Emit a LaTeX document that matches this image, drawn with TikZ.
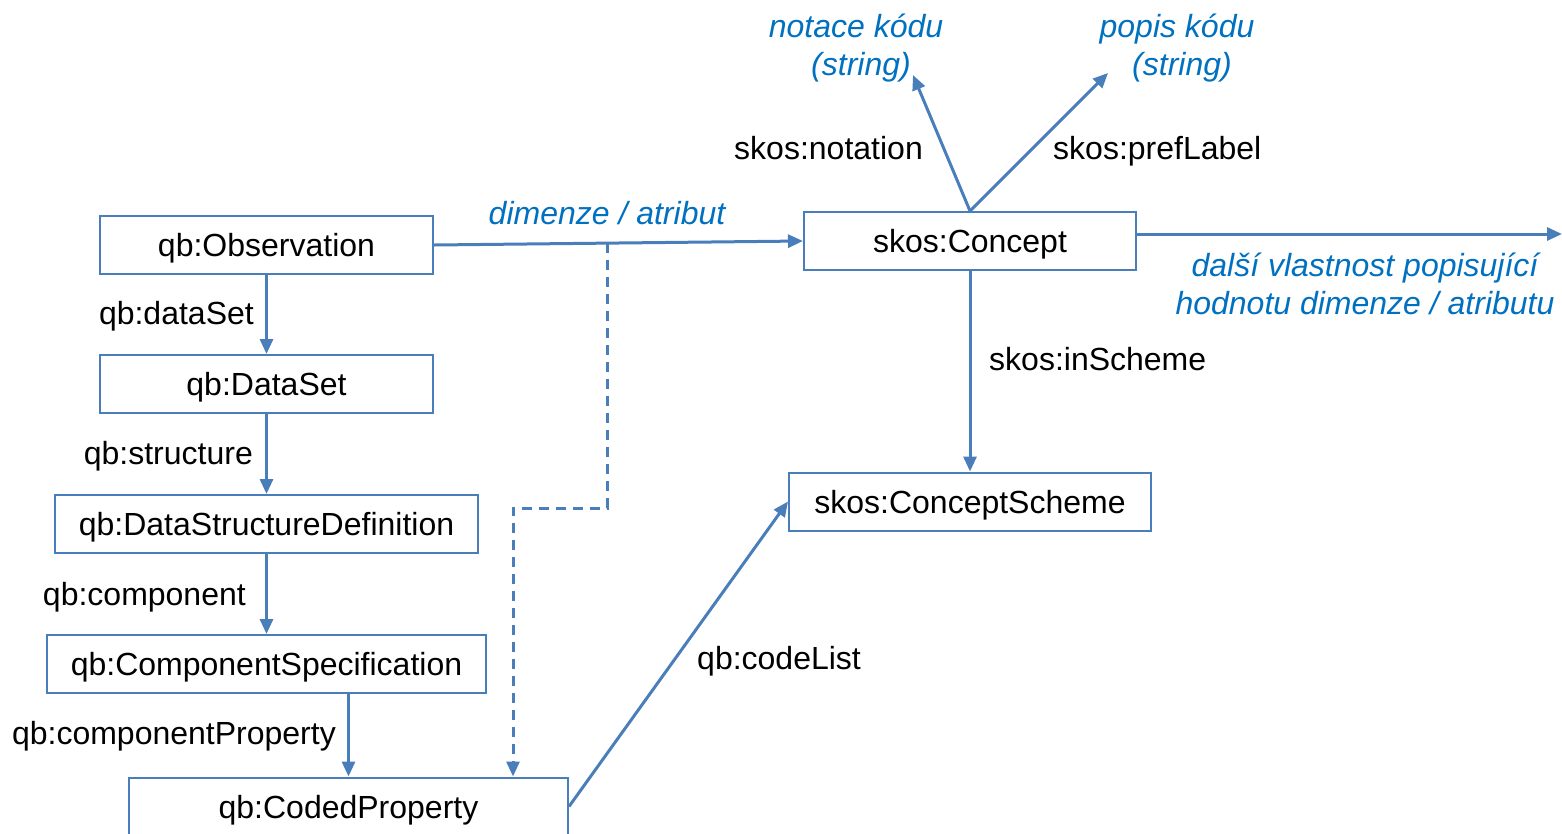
\documentclass[tikz,border=0pt]{standalone}
\usepackage{fontspec}
\setmainfont{Liberation Sans}
\usetikzlibrary{arrows.meta,calc}
\definecolor{linec}{HTML}{4A7EBB}
\definecolor{italc}{HTML}{0070C0}
\begin{document}
\begin{tikzpicture}[x=1pt,y=-1pt,
  font=\fontsize{32}{38}\selectfont,
  cls/.style={draw=linec,line width=2pt,minimum height=58pt,inner sep=0pt,
              text height=23pt,text depth=0pt},
  prop/.style={inner sep=0pt,text height=23pt,text depth=0pt},
  note/.style={inner sep=0pt,text=italc,font=\fontsize{32}{38}\selectfont\itshape,align=center},
  link/.style={draw=linec,line width=3pt,-{Triangle[length=15pt,width=13pt]}},
  dlink/.style={link,dash pattern=on 10pt off 7pt}]
\useasboundingbox (0,0) rectangle (1562,833);

% class boxes
\node[cls,minimum width=333pt] (obs) at (266.5,245) {qb:Observation};
\node[cls,minimum width=333pt] (ds)  at (266.5,384) {qb:DataSet};
\node[cls,minimum width=423pt] (dsd) at (266.5,524) {qb:DataStructureDefinition};
\node[cls,minimum width=439pt] (cs)  at (266.5,664) {qb:ComponentSpecification};
\node[cls,minimum width=439pt] (cp)  at (348.5,806.5) {qb:CodedProperty};
\node[cls,minimum width=332pt] (con) at (970,241)   {skos:Concept};
\node[cls,minimum width=362pt] (sch) at (970,501.5) {skos:ConceptScheme};

% literal values and free ends
\node[note] (notl) at (856,48) {notace kódu\\\hspace*{10pt}(string)};
\node[note] (popl) at (1177,48) {popis kódu\\\hspace*{10pt}(string)};
\node[note] (dall) at (1365,284) {další vlastnost popisující\\hodnotu dimenze / atributu};
\coordinate (nt) at (913,75);
\coordinate (pl) at (1108,73);
\coordinate (far) at (1562,234);

% structure chain
\draw[link] (obs.south) -- (ds.north);
\draw[link] (ds.south) -- (dsd.north);
\draw[link] (dsd.south) -- (cs.north);
\draw[link] (cs.south -| cp.north) -- (cp.north);

\node[prop,anchor=east] (l1) at (254,313) {qb:dataSet};
\node[prop,anchor=east] (l2) at (253,453) {qb:structure};
\node[prop,anchor=east] (l3) at (246,594) {qb:component};
\node[prop,anchor=east] (l4) at (336,733) {qb:componentProperty};

% observation value
\draw[link] (obs.east) -- (con.west);
\node[note] (dim) at (607,213) {dimenze / atribut};
\coordinate (d0) at ($(obs.east)!0.469!(con.west)$);
\coordinate (bend) at (513,508);
\draw[dlink] (d0) |- (bend) -- (bend |- cp.north);

% code list
\draw[link] (cp.east) -- (sch.west);
\node[prop,anchor=west] (l5) at (697,658) {qb:codeList};

% concept properties
\draw[link] (con.south) -- (sch.north);
\node[prop,anchor=west] (l6) at (989,359) {skos:inScheme};
\draw[link] (con.north) -- (nt);
\draw[link] (con.north) -- (pl);
\node[prop,anchor=east] (l7) at (923,148) {skos:notation};
\node[prop,anchor=west] (l8) at (1053,148) {skos:prefLabel};
\draw[link] ([yshift=7pt]con.east) -- (far);
\end{tikzpicture}
\end{document}
